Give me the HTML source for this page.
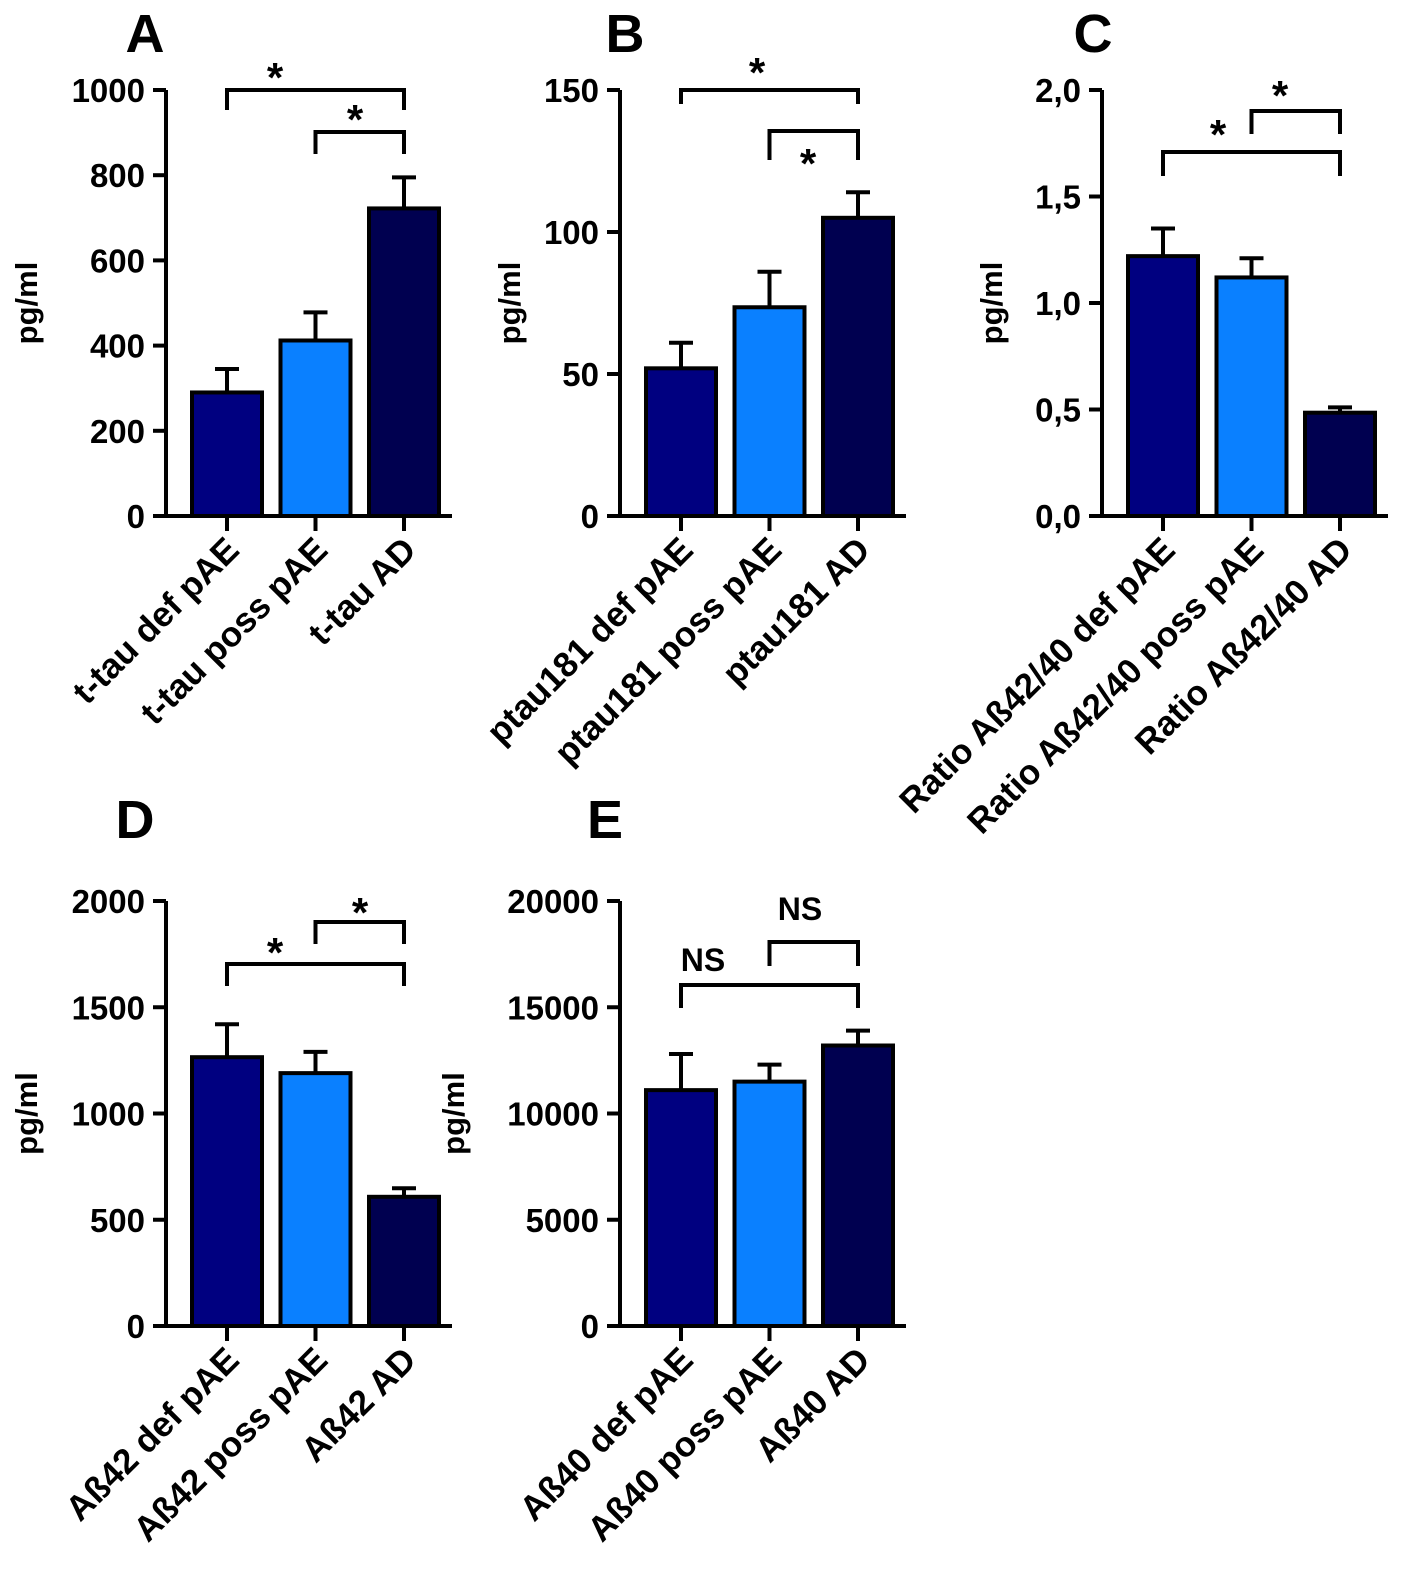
<!DOCTYPE html>
<html><head><meta charset="utf-8"><style>
html,body{margin:0;padding:0;background:#fff}
svg text{font-family:"Liberation Sans",Arial,sans-serif;font-weight:bold;fill:#000}
</style></head><body>
<svg id="fig" width="1418" height="1576" viewBox="0 0 1418 1576" xmlns="http://www.w3.org/2000/svg"></svg>
<script>
// Data arrays
const catsA = ["t-tau def pAE","t-tau poss pAE","t-tau AD"];
const valsA = [290, 412, 722];
const errsA = [345, 478, 795];
const ticksA = [0,200,400,600,800,1000];
const tickLabelsA = ["0","200","400","600","800","1000"];

const catsB = ["ptau181 def pAE","ptau181 poss pAE","ptau181 AD"];
const valsB = [52, 73.5, 105];
const errsB = [61, 86, 114];
const ticksB = [0,50,100,150];
const tickLabelsB = ["0","50","100","150"];

const catsC = ["Ratio Aß42/40 def pAE","Ratio Aß42/40 poss pAE","Ratio Aß42/40 AD"];
const valsC = [1.22, 1.12, 0.485];
const errsC = [1.35, 1.21, 0.51];
const ticksC = [0,0.5,1,1.5,2];
const tickLabelsC = ["0,0","0,5","1,0","1,5","2,0"];

const catsD = ["Aß42 def pAE","Aß42 poss pAE","Aß42 AD"];
const valsD = [1265, 1190, 608];
const errsD = [1420, 1290, 648];
const ticksD = [0,500,1000,1500,2000];
const tickLabelsD = ["0","500","1000","1500","2000"];

const catsE = ["Aß40 def pAE","Aß40  poss pAE","Aß40 AD"];
const valsE = [11100, 11500, 13200];
const errsE = [12800, 12300, 13900];
const ticksE = [0,5000,10000,15000,20000];
const tickLabelsE = ["0","5000","10000","15000","20000"];

const colors = ["#000080","#0a80ff","#000050"];
const NS = "http://www.w3.org/2000/svg";
const svg = document.getElementById('fig');
function mk(tag, attrs, parent, txt){
  const e = document.createElementNS(NS, tag);
  for (const k in attrs) e.setAttribute(k, attrs[k]);
  if (txt !== undefined) e.textContent = txt;
  (parent||svg).appendChild(e); return e;
}
function panel(id, letter, letterPos, ax, y0, yTop, max, cats, vals, errs, ticks, tlabels, ylabX, brackets){
  const g = mk('g', {});
  
  
  const ys = v => y0 - (v / max) * (y0 - yTop);
  const cx = i => ax + 61 + i * 88.5;
  const L = mk('text', {x: letterPos[0], y: letterPos[1], 'font-size': 54, 'text-anchor': 'middle'}, g, letter);
  
  
  const yl = mk('text', {x: ylabX, y: (y0 + yTop) / 2, 'font-size': 31, 'text-anchor': 'middle', transform: `rotate(-90 ${ylabX} ${(y0 + yTop) / 2})`}, g, 'pg/ml');
  
  
  vals.forEach((v, i) => {
    const x = cx(i);
    const eb = mk('path', {d: `M${x},${ys(v)}V${ys(errs[i])}M${x - 12},${ys(errs[i])}H${x + 12}`, stroke: '#000', 'stroke-width': 4, fill: 'none'}, g);
    
    
    const r = mk('rect', {x: x - 35, y: ys(v), width: 70, height: y0 - ys(v), fill: colors[i], stroke: '#000', 'stroke-width': 4}, g);
    
    
  });
  const axes = mk('path', {d: `M${ax},${yTop}V${y0}M${ax},${y0}H${ax + 286}`, stroke: '#000', 'stroke-width': 4, fill: 'none'}, g);
  
  
  ticks.forEach((t, i) => {
    mk('path', {d: `M${ax - 13},${ys(t)}H${ax}`, stroke: '#000', 'stroke-width': 4}, g);
    const tl = mk('text', {x: ax - 21, y: ys(t) + 12, 'font-size': 33, 'text-anchor': 'end'}, g, tlabels[i]);
    
    
  });
  cats.forEach((c, i) => {
    const x = cx(i);
    mk('path', {d: `M${x},${y0}V${y0 + 15}`, stroke: '#000', 'stroke-width': 4}, g);
    const tx = x + 14, ty = y0 + 36;
    const xl = mk('text', {x: tx, y: ty, 'font-size': 35, 'text-anchor': 'end', transform: `rotate(-45 ${tx} ${ty})`}, g, c);
    
    
  });
  brackets.forEach(b => {
    const x1 = cx(b[0]), x2 = cx(b[1]);
    const br = mk('path', {d: `M${x1},${b[3]}V${b[2]}H${x2}V${b[3]}`, stroke: '#000', 'stroke-width': 4, fill: 'none'}, g);
    
    
    const st = mk('text', {x: b[4], y: b[5], 'font-size': b[6] === '*' ? 42 : 32, 'text-anchor': 'middle'}, g, b[6]);
    
    
  });
}
panel('a', 'A', [145, 52], 166, 516, 90, 1000, catsA, valsA, errsA, ticksA, tickLabelsA, 37,
  [[0, 2, 90, 110, 275, 92, '*'], [1, 2, 132, 154, 355, 134, '*']]);
panel('b', 'B', [625, 52], 620, 516, 90, 150, catsB, valsB, errsB, ticksB, tickLabelsB, 520,
  [[0, 2, 90, 104, 757, 87, '*'], [1, 2, 131, 160, 808, 178, '*']]);
panel('c', 'C', [1093, 52], 1102, 516, 90, 2, catsC, valsC, errsC, ticksC, tickLabelsC, 1002,
  [[0, 2, 152, 176, 1218, 149, '*'], [1, 2, 111, 134, 1280, 110, '*']]);
panel('d', 'D', [135, 838], 166, 1326, 901, 2000, catsD, valsD, errsD, ticksD, tickLabelsD, 37,
  [[0, 2, 964, 986, 275, 967, '*'], [1, 2, 922, 944, 360, 927, '*']]);
panel('e', 'E', [605, 838], 620, 1326, 901, 20000, catsE, valsE, errsE, ticksE, tickLabelsE, 464,
  [[0, 2, 985, 1008, 703, 971, 'NS'], [1, 2, 942, 966, 800, 920, 'NS']]);
</script>
</body></html>
